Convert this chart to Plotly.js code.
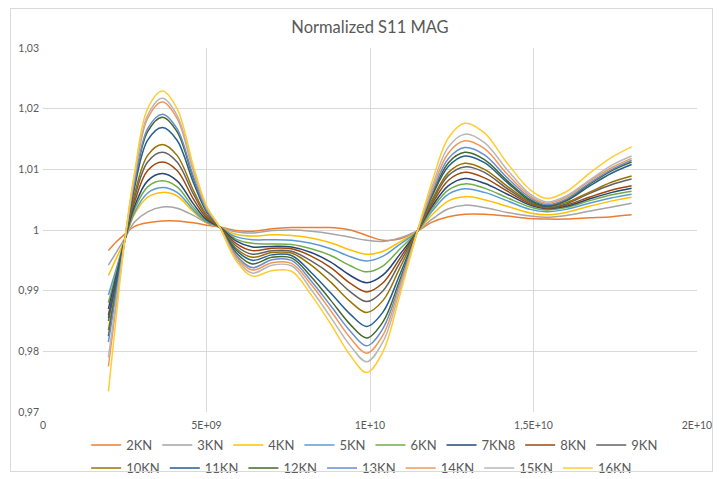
<!DOCTYPE html>
<html>
<head>
<meta charset="utf-8">
<script src="https://cdn.plot.ly/plotly-3.0.1.min.js"></script>
<style>
  html, body { margin: 0; padding: 0; background: #ffffff; }
  #wrap { position: relative; width: 722px; height: 479px; }
  #chart { position: absolute; left: 0; top: 0; width: 722px; height: 479px; }
  #frame { position: absolute; left: 10px; top: 8px; width: 701px; height: 462px;
           border: 1px solid #d9d9d9; pointer-events: none; }
</style>
</head>
<body>
<div id="wrap">
  <div id="chart"></div>
  <div id="frame"></div>
</div>
<script>
// Frequency points (Hz)
const freq = [2.0e9, 2.25e9, 2.5e9, 2.8e9, 3.2e9, 3.65e9, 4.1e9, 4.6e9, 5.0e9, 5.4e9,
              5.9e9, 6.4e9, 7.0e9, 7.6e9, 8.2e9, 8.8e9, 9.4e9, 9.9e9, 10.4e9, 10.9e9,
              11.45e9, 11.9e9, 12.4e9, 12.9e9, 13.5e9, 14.2e9, 14.9e9, 15.4e9, 16.0e9,
              16.7e9, 17.4e9, 18.0e9];

// Normalized S11 magnitude per load
const s2KN  = [0.9966, 0.9981, 0.9993, 1.0006, 1.0012, 1.0015, 1.0015, 1.0012, 1.0008, 1.0005,
               0.9999, 0.9998, 1.0002, 1.0004, 1.0004, 1.0004, 1.0000, 0.9991, 0.9983, 0.9985,
               0.9998, 1.0013, 1.0022, 1.0026, 1.0026, 1.0023, 1.0019, 1.0018, 1.0018,
               1.0020, 1.0022, 1.0025];
const s3KN  = [0.9942, 0.9964, 0.9986, 1.0013, 1.0030, 1.0038, 1.0036, 1.0024, 1.0012, 1.0005,
               0.9997, 0.9995, 0.9999, 1.0000, 0.9998, 0.9994, 0.9988, 0.9983, 0.9981, 0.9987,
               0.9999, 1.0018, 1.0035, 1.0041, 1.0037, 1.0029, 1.0023, 1.0021, 1.0024,
               1.0031, 1.0038, 1.0044];
const s4KN  = [0.9925, 0.9954, 0.9984, 1.0026, 1.0054, 1.0062, 1.0056, 1.0030, 1.0012, 1.0005,
               0.9993, 0.9990, 0.9992, 0.9991, 0.9987, 0.9979, 0.9967, 0.9960, 0.9965, 0.9980,
               0.9998, 1.0025, 1.0048, 1.0055, 1.0050, 1.0039, 1.0028, 1.0025, 1.0029,
               1.0039, 1.0048, 1.0054];
const s5KN  = [0.9893, 0.9938, 0.9983, 1.0029, 1.0061, 1.0070, 1.0062, 1.0033, 1.0013, 1.0005,
               0.9989, 0.9984, 0.9984, 0.9983, 0.9978, 0.9969, 0.9956, 0.9949, 0.9957, 0.9976,
               0.9998, 1.0031, 1.0059, 1.0068, 1.0062, 1.0048, 1.0034, 1.0030, 1.0034,
               1.0044, 1.0053, 1.0059];
const s6KN  = [0.9880, 0.9932, 0.9983, 1.0034, 1.0071, 1.0081, 1.0071, 1.0037, 1.0015, 1.0005,
               0.9985, 0.9978, 0.9977, 0.9976, 0.9969, 0.9958, 0.9941, 0.9931, 0.9941, 0.9968,
               0.9998, 1.0035, 1.0066, 1.0076, 1.0069, 1.0053, 1.0038, 1.0033, 1.0037,
               1.0048, 1.0058, 1.0064];
const s7KN8 = [0.9870, 0.9927, 0.9983, 1.0039, 1.0081, 1.0093, 1.0081, 1.0043, 1.0017, 1.0005,
               0.9982, 0.9972, 0.9973, 0.9972, 0.9963, 0.9947, 0.9925, 0.9913, 0.9926, 0.9959,
               0.9998, 1.0039, 1.0073, 1.0085, 1.0077, 1.0059, 1.0041, 1.0035, 1.0039,
               1.0051, 1.0062, 1.0069];
const s8KN  = [0.9860, 0.9922, 0.9983, 1.0046, 1.0098, 1.0112, 1.0098, 1.0051, 1.0020, 1.0005,
               0.9978, 0.9966, 0.9970, 0.9969, 0.9957, 0.9938, 0.9912, 0.9898, 0.9913, 0.9952,
               0.9998, 1.0043, 1.0082, 1.0095, 1.0086, 1.0064, 1.0043, 1.0036, 1.0041,
               1.0054, 1.0066, 1.0073];
const s9KN  = [0.9850, 0.9917, 0.9983, 1.0053, 1.0112, 1.0128, 1.0112, 1.0059, 1.0023, 1.0005,
               0.9974, 0.9960, 0.9966, 0.9965, 0.9949, 0.9927, 0.9898, 0.9882, 0.9900, 0.9945,
               0.9998, 1.0047, 1.0090, 1.0104, 1.0095, 1.0068, 1.0045, 1.0037, 1.0043,
               1.0060, 1.0075, 1.0084];
const s10KN = [0.9835, 0.9910, 0.9983, 1.0059, 1.0123, 1.0141, 1.0123, 1.0065, 1.0025, 1.0005,
               0.9970, 0.9955, 0.9963, 0.9962, 0.9942, 0.9914, 0.9882, 0.9864, 0.9884, 0.9936,
               0.9998, 1.0050, 1.0095, 1.0110, 1.0100, 1.0072, 1.0046, 1.0038, 1.0045,
               1.0062, 1.0079, 1.0089];
const s11KN = [0.9855, 0.9919, 0.9983, 1.0070, 1.0148, 1.0169, 1.0148, 1.0078, 1.0030, 1.0005,
               0.9967, 0.9950, 0.9959, 0.9958, 0.9930, 0.9896, 0.9861, 0.9841, 0.9865, 0.9925,
               0.9998, 1.0056, 1.0105, 1.0122, 1.0111, 1.0078, 1.0048, 1.0039, 1.0048,
               1.0072, 1.0094, 1.0108];
const s12KN = [0.9825, 0.9905, 0.9983, 1.0077, 1.0162, 1.0186, 1.0162, 1.0085, 1.0033, 1.0005,
               0.9963, 0.9944, 0.9955, 0.9954, 0.9923, 0.9884, 0.9844, 0.9822, 0.9849, 0.9916,
               0.9998, 1.0058, 1.0111, 1.0128, 1.0116, 1.0081, 1.0050, 1.0040, 1.0049,
               1.0075, 1.0098, 1.0112];
const s13KN = [0.9815, 0.9900, 0.9983, 1.0079, 1.0167, 1.0191, 1.0167, 1.0088, 1.0033, 1.0005,
               0.9959, 0.9938, 0.9951, 0.9950, 0.9916, 0.9875, 0.9833, 0.9809, 0.9838, 0.9910,
               0.9998, 1.0062, 1.0118, 1.0136, 1.0124, 1.0086, 1.0053, 1.0042, 1.0051,
               1.0077, 1.0100, 1.0115];
const s14KN = [0.9775, 0.9881, 0.9983, 1.0088, 1.0184, 1.0211, 1.0184, 1.0097, 1.0037, 1.0005,
               0.9956, 0.9934, 0.9946, 0.9945, 0.9910, 0.9867, 0.9822, 0.9797, 0.9827, 0.9905,
               0.9998, 1.0067, 1.0127, 1.0147, 1.0134, 1.0092, 1.0056, 1.0044, 1.0054,
               1.0080, 1.0103, 1.0118];
const s15KN = [0.9790, 0.9888, 0.9983, 1.0090, 1.0189, 1.0217, 1.0189, 1.0100, 1.0038, 1.0005,
               0.9953, 0.9929, 0.9942, 0.9941, 0.9902, 0.9856, 0.9809, 0.9783, 0.9816, 0.9898,
               0.9998, 1.0072, 1.0137, 1.0158, 1.0144, 1.0099, 1.0059, 1.0046, 1.0056,
               1.0082, 1.0107, 1.0122];
const s16KN = [0.9734, 0.9863, 0.9983, 1.0095, 1.0200, 1.0229, 1.0200, 1.0105, 1.0040, 1.0005,
               0.9950, 0.9924, 0.9933, 0.9932, 0.9893, 0.9845, 0.9793, 0.9765, 0.9800, 0.9890,
               0.9998, 1.0080, 1.0152, 1.0176, 1.0160, 1.0110, 1.0066, 1.0052, 1.0063,
               1.0093, 1.0120, 1.0137];

const seriesNames = ['2KN', '3KN', '4KN', '5KN', '6KN', '7KN8', '8KN', '9KN',
                     '10KN', '11KN', '12KN', '13KN', '14KN', '15KN', '16KN'];
const seriesValues = [s2KN, s3KN, s4KN, s5KN, s6KN, s7KN8, s8KN, s9KN,
                      s10KN, s11KN, s12KN, s13KN, s14KN, s15KN, s16KN];
const seriesColors = ['#ED7D31', '#A5A5A5', '#FFC000', '#5B9BD5', '#70AD47', '#264478',
                      '#9E480E', '#636363', '#997300', '#255E91', '#43682B', '#698ED0',
                      '#F1975A', '#B7B7B7', '#FFCD33'];

// Axis ticks
const xTickVals = [0, 5e9, 1e10, 1.5e10, 2e10];
const xTickText = ['0', '5E+09', '1E+10', '1,5E+10', '2E+10'];
const yTickVals = [0.97, 0.98, 0.99, 1.00, 1.01, 1.02, 1.03];
const yTickText = ['0,97', '0,98', '0,99', '1', '1,01', '1,02', '1,03'];

const FONT = 'Lato, "Open Sans", "Liberation Sans", sans-serif';
const TEXT_COLOR = '#595959';
const GRID = '#d9d9d9';

// First row of legend entries goes to "legend", the rest to "legend2"
const traces = seriesNames.map((name, i) => ({
  type: 'scatter',
  mode: 'lines',
  name: name,
  x: freq,
  y: seriesValues[i],
  line: { color: seriesColors[i], width: 1.5, shape: 'spline', smoothing: 1 },
  legend: i < 8 ? 'legend' : 'legend2',
  hoverinfo: 'skip'
}));

// Both legend rows share the same left edge
const legendCommon = {
  orientation: 'h',
  xref: 'paper', yref: 'paper',
  x: 0.066, xanchor: 'left',
  yanchor: 'middle',
  font: { family: FONT, size: 13, color: TEXT_COLOR },
  itemwidth: 30,
  tracegroupgap: 0,
  bgcolor: 'rgba(0,0,0,0)',
  borderwidth: 0
};

const layout = {
  width: 722,
  height: 479,
  margin: { l: 43, r: 25, t: 48, b: 67, pad: 0, autoexpand: false },
  paper_bgcolor: '#ffffff',
  plot_bgcolor: '#ffffff',
  font: { family: FONT, color: TEXT_COLOR },
  title: {
    text: 'Normalized S11 MAG',
    font: { family: FONT, size: 16.5, color: TEXT_COLOR },
    x: 0.5, xref: 'paper', xanchor: 'center',
    y: 1 - 27 / 479, yref: 'container', yanchor: 'middle'
  },
  xaxis: {
    range: [0, 2e10],
    tickvals: xTickVals,
    ticktext: xTickText,
    showgrid: true,
    gridcolor: GRID,
    gridwidth: 1,
    zeroline: false,
    showline: false,
    ticks: '',
    ticklabelstandoff: 5,
    tickfont: { family: FONT, size: 10.5, color: TEXT_COLOR },
    fixedrange: true
  },
  yaxis: {
    range: [0.97, 1.03],
    tickvals: yTickVals,
    ticktext: yTickText,
    showgrid: true,
    gridcolor: GRID,
    gridwidth: 1,
    zeroline: false,
    showline: false,
    ticks: '',
    ticklabelstandoff: 3,
    tickfont: { family: FONT, size: 10.5, color: TEXT_COLOR },
    fixedrange: true
  },
  showlegend: true,
  legend: Object.assign({}, legendCommon, { y: -0.0907 }),
  legend2: Object.assign({}, legendCommon, { y: -0.1538 })
};

Plotly.newPlot('chart', traces, layout, { displayModeBar: false, staticPlot: true });
</script>
</body>
</html>
